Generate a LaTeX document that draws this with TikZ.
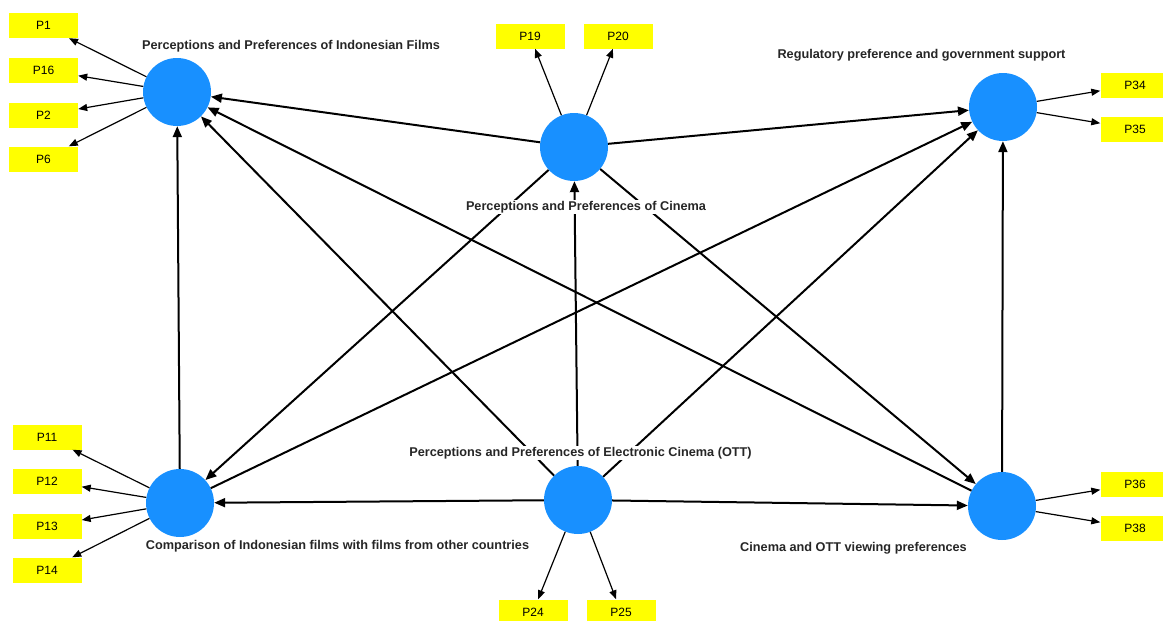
\documentclass[tikz,border=0pt]{standalone}
\usepackage{fontspec}
\setmainfont{Liberation Sans}
\usetikzlibrary{arrows.meta}
\definecolor{lvblue}{RGB}{24,144,255}
\definecolor{indyellow}{RGB}{255,255,0}
\begin{document}
\begin{tikzpicture}[x=1pt,y=-1pt,
  latent/.style={circle,fill=lvblue,minimum size=68pt,inner sep=0pt},
  ind/.style={rectangle,fill=indyellow,minimum width=69pt,minimum height=25pt,inner sep=0pt,font=\fontsize{12}{14}\selectfont},
  lbl/.style={fill=white,inner sep=1pt,font=\fontsize{12.7}{15}\selectfont\bfseries,text=black!85},
  strc/.style={line width=2pt,-{Triangle[length=11pt,width=9pt]}},
  ldg/.style={line width=1.2pt,-{Triangle[length=9pt,width=7pt]}}]
\useasboundingbox (0,0) rectangle (1163,621);
\clip (0,0) rectangle (1163,621);

% latent variables
\node[latent] (A) at (177,92) {};
\node[latent] (B) at (574,147) {};
\node[latent] (C) at (1003,107) {};
\node[latent] (D) at (180,503) {};
\node[latent] (E) at (578,500) {};
\node[latent] (F) at (1002,506) {};

% indicators
\node[ind] (p1) at (43.5,25.5) {P1};
\node[ind] (p16) at (43.5,70) {P16};
\node[ind] (p2) at (43.5,115) {P2};
\node[ind] (p6) at (43.5,159) {P6};
\node[ind] (p19) at (530,36) {P19};
\node[ind] (p20) at (618,36) {P20};
\node[ind] (p34) at (1135,85) {P34};
\node[ind] (p35) at (1135,129) {P35};
\node[ind] (p11) at (47,437) {P11};
\node[ind] (p12) at (47,481) {P12};
\node[ind] (p13) at (47,526) {P13};
\node[ind] (p14) at (47,570) {P14};
\node[ind] (p24) at (533,612) {P24};
\node[ind] (p25) at (621,612) {P25};
\node[ind] (p36) at (1135,484) {P36};
\node[ind] (p38) at (1135,528) {P38};

% loadings
\foreach \t in {p1,p16,p2,p6} \draw[ldg] (A) -- (\t);
\foreach \t in {p19,p20} \draw[ldg] (B) -- (\t);
\foreach \t in {p34,p35} \draw[ldg] (C) -- (\t);
\foreach \t in {p11,p12,p13,p14} \draw[ldg] (D) -- (\t);
\foreach \t in {p24,p25} \draw[ldg] (E) -- (\t);
\foreach \t in {p36,p38} \draw[ldg] (F) -- (\t);

% structural paths
\draw[strc] (B) -- (A);
\draw[strc] (B) -- (C);
\draw[strc] (B) -- (D);
\draw[strc] (B) -- (F);
\draw[strc] (E) -- (B);
\draw[strc] (E) -- (A);
\draw[strc] (E) -- (C);
\draw[strc] (E) -- (D);
\draw[strc] (E) -- (F);
\draw[strc] (D) -- (A);
\draw[strc] (D) -- (C);
\draw[strc] (F) -- (A);
\draw[strc] (F) -- (C);

% labels
\node[lbl] (lA) at (291,46) {Perceptions and Preferences of Indonesian Films};
\node[lbl] (lB) at (586,207) {Perceptions and Preferences of Cinema};
\node[lbl] (lC) at (921.5,55) {Regulatory preference and government support};
\node[lbl] (lD) at (337.5,546) {Comparison of Indonesian films with films from other countries};
\node[lbl] (lE) at (580.5,453) {Perceptions and Preferences of Electronic Cinema (OTT)};
\node[lbl] (lF) at (853.5,548) {Cinema and OTT viewing preferences};
\end{tikzpicture}
\end{document}
